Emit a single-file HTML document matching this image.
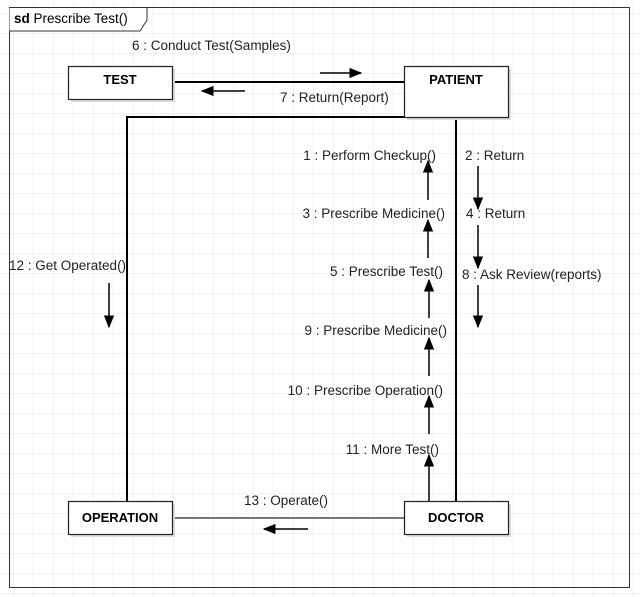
<!DOCTYPE html>
<html><head><style>
body{margin:0;background:#fff;}
svg{display:block;font-family:"Liberation Sans",Arial,sans-serif;}
</style></head><body>
<svg width="640" height="597" viewBox="0 0 640 597" xmlns="http://www.w3.org/2000/svg">
<defs>
<pattern id="g" x="13" y="13" width="20" height="20" patternUnits="userSpaceOnUse">
<path d="M0 0H20M0 0V20" stroke="#e6e6e6" stroke-width="1" fill="none"/>
</pattern>
<marker id="a" viewBox="0 0 10 10" refX="9" refY="5" markerWidth="13" markerHeight="13" markerUnits="userSpaceOnUse" orient="auto"><path d="M0 1L10 5L0 9Z" fill="#000"/></marker>
</defs>
<rect width="640" height="597" fill="url(#g)"/>
<rect x="9.5" y="7.5" width="620" height="580" fill="none" stroke="#333"/>
<path d="M9.5 7.5H147V20L140 31H9.5" fill="#fff" stroke="#333"/>
<text x="14" y="23" font-size="13.5"><tspan font-weight="bold">sd</tspan> Prescribe Test()</text>

<g stroke="#000" fill="none">
<line x1="172" y1="82" x2="404" y2="82" stroke-width="2"/>
<polyline points="404,117 127,117 127,501" stroke-width="2"/>
<line x1="456" y1="117" x2="456" y2="501" stroke-width="2"/>
<line x1="172" y1="518" x2="404" y2="518" stroke="#777" stroke-width="2"/>
<g stroke-width="1.5" marker-end="url(#a)">
<line x1="320" y1="73" x2="361" y2="73"/>
<line x1="245" y1="91" x2="202" y2="91"/>
<line x1="428" y1="200" x2="428" y2="161"/>
<line x1="428" y1="258" x2="428" y2="220"/>
<line x1="429" y1="318" x2="429" y2="280"/>
<line x1="429" y1="376" x2="429" y2="338"/>
<line x1="429" y1="434" x2="429" y2="396"/>
<line x1="429" y1="501" x2="429" y2="455"/>
<line x1="478" y1="166" x2="478" y2="209"/>
<line x1="478" y1="225" x2="478" y2="268"/>
<line x1="478" y1="285" x2="478" y2="327"/>
<line x1="109" y1="283" x2="109" y2="327"/>
<line x1="308" y1="529" x2="264" y2="529"/>
</g>
</g>

<g fill="#ddd"><rect x="71" y="69" width="104" height="33"/><rect x="407" y="69" width="104" height="51"/><rect x="71" y="504" width="104" height="33"/><rect x="407" y="504" width="104" height="33"/></g>
<g fill="#fff" stroke="#222" stroke-width="1.2">
<rect x="68.5" y="66.5" width="104" height="33"/>
<rect x="404.5" y="66.5" width="104" height="51"/>
<rect x="68.5" y="501.5" width="104" height="33"/>
<rect x="404.5" y="501.5" width="104" height="33"/>
</g>
<g font-size="13" font-weight="bold" text-anchor="middle">
<text x="120" y="84">TEST</text>
<text x="456" y="84">PATIENT</text>
<text x="120" y="522">OPERATION</text>
<text x="456" y="522">DOCTOR</text>
</g>
<g font-size="13.5" fill="#222">
<text x="132" y="50">6 : Conduct Test(Samples)</text>
<text x="280" y="102">7 : Return(Report)</text>
<g text-anchor="end">
<text x="436" y="160">1 : Perform Checkup()</text>
<text x="445" y="218">3 : Prescribe Medicine()</text>
<text x="443" y="276">5 : Prescribe Test()</text>
<text x="447" y="335">9 : Prescribe Medicine()</text>
<text x="443" y="395">10 : Prescribe Operation()</text>
<text x="439" y="454">11 : More Test()</text>
</g>
<text x="465" y="160">2 : Return</text>
<text x="466" y="218">4 : Return</text>
<text x="462" y="279">8 : Ask Review(reports)</text>
<text x="9" y="270">12 : Get Operated()</text>
<text x="244" y="505">13 : Operate()</text>
</g>
</svg>
</body></html>
